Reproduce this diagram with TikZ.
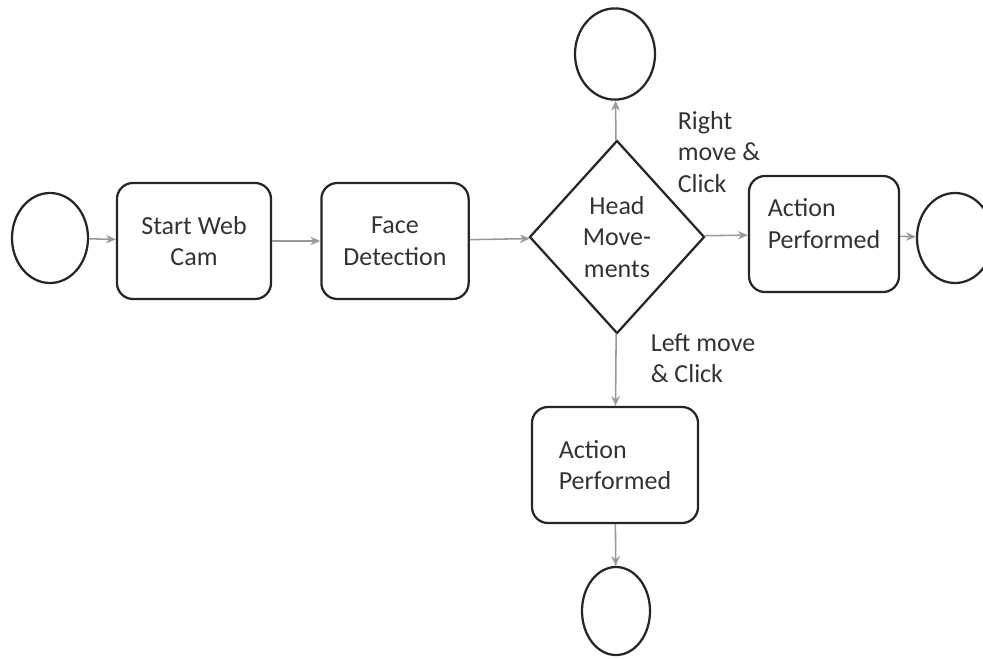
\documentclass[tikz,border=0pt]{standalone}
\usepackage{fontspec}
\setmainfont{Carlito}
\usetikzlibrary{shapes.geometric,arrows.meta}

\begin{document}
\begin{tikzpicture}[
  x=0.025cm,y=-0.025cm,
  every node/.style={font=\fontsize{18.5}{22.5}\selectfont,text=black!80},
  term/.style={ellipse,draw=black!85,line width=1.6pt,inner sep=0pt},
  proc/.style={rectangle,rounded corners=0.4cm,draw=black!85,line width=1.6pt,
    minimum height=2.9cm,align=left},
  dec/.style={diamond,draw=black!85,line width=1.6pt,inner sep=0pt,align=center,
    minimum width=4.375cm,minimum height=4.825cm},
  flow/.style={draw=black!40,line width=1.1pt,-{Stealth[length=7pt,width=6pt]}}
]
  \useasboundingbox (0,0) rectangle (983,658);
  \node[term,minimum width=1.9cm,minimum height=2.25cm] (start) at (50,238) {};
  \node[proc,minimum width=3.85cm,align=center] (cam) at (194,241) {Start Web\\Cam};
  \node[proc,minimum width=3.68cm,align=center] (face) at (395,241) {Face\\Detection};
  \node[dec] (head) at (617,237) {Head\\Move-\\ments};
  \node[term,minimum width=2cm,minimum height=2.28cm] (up) at (615,54) {};
  \node[proc,minimum width=3.75cm] (actr) at (824,234) {Action\\Performed\\[-8pt]};
  \node[term,minimum width=1.9cm,minimum height=2.25cm] (endr) at (955,238) {};
  \node[proc,minimum width=4.15cm] (actd) at (615,465) {Action\\Performed};
  \node[term,minimum width=1.7cm,minimum height=2.2cm] (endd) at (616,611) {};
  \node[align=left] (rlab) at (719,152) {Right\\move \&\\Click};
  \node[align=left] (llab) at (703,358) {Left move\\\& Click};
  \draw[flow] (start)--(cam);
  \draw[flow] (cam)--(face);
  \draw[flow] (face)--(head);
  \draw[flow] (head)--(up);
  \draw[flow] (head)--(actr);
  \draw[flow] (actr)--(endr);
  \draw[flow] (head)--(actd);
  \draw[flow] (actd)--(endd);
\end{tikzpicture}
\end{document}
